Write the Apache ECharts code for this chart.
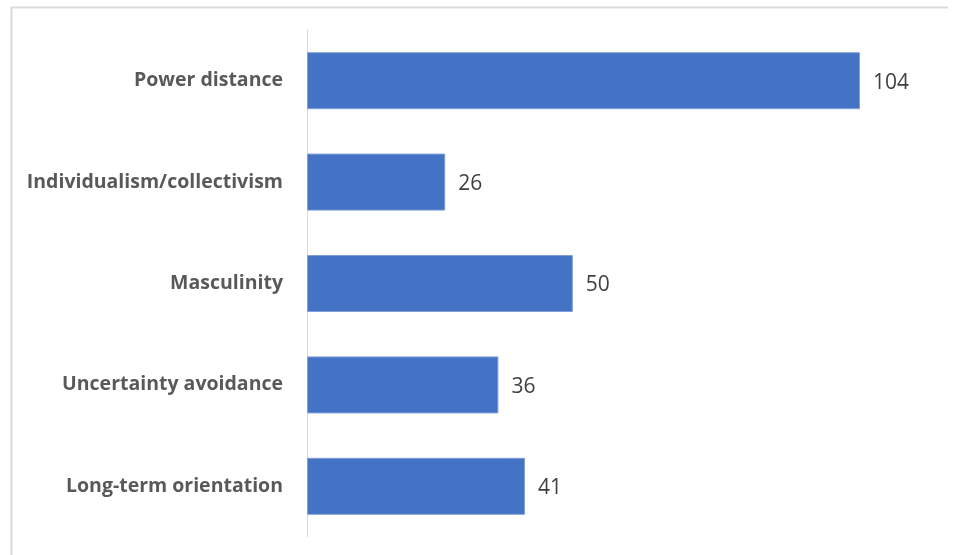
<!DOCTYPE html>
<html><head><meta charset="utf-8">
<script src="https://cdn.jsdelivr.net/npm/echarts@6/dist/echarts.min.js"></script>
<style>html,body{margin:0;padding:0;background:#fff}#c{width:959px;height:555px}</style>
</head><body><div id="c"></div>
<script>
const categories = ["Power distance","Individualism/collectivism","Masculinity","Uncertainty avoidance","Long-term orientation"];
const values = [104, 26, 50, 36, 41];
const chart = echarts.init(document.getElementById('c'));
chart.setOption({
  animation: false,
  graphic: [
    {type:'polyline', shape:{points:[[11.5,560],[11.5,7.5],[948,7.5]]}, style:{stroke:'#d9d9d9', lineWidth:2, fill:null}}
  ],
  grid: {left: 307, right: 14, top: 30, bottom: 18},
  xAxis: {type:'value', min:0, max:120, show:false},
  yAxis: {
    type:'category', data:categories, inverse:true,
    axisLine:{show:true, lineStyle:{color:'#d9d9d9', width:1}},
    axisTick:{show:false},
    axisLabel:{color:'#595959', fontWeight:'bold', fontSize:19.5, fontFamily:'Open Sans', margin:24, padding:[4,0,0,0]}
  },
  series: [{
    type:'bar', data:values, barWidth:57,
    itemStyle:{color:'#4472C4', borderColor:'#7f9fd9', borderWidth:1},
    label:{show:true, position:'right', distance:13, color:'#404040', fontSize:21, fontFamily:'Open Sans', offset:[0,2]}
  }]
});
</script></body></html>
